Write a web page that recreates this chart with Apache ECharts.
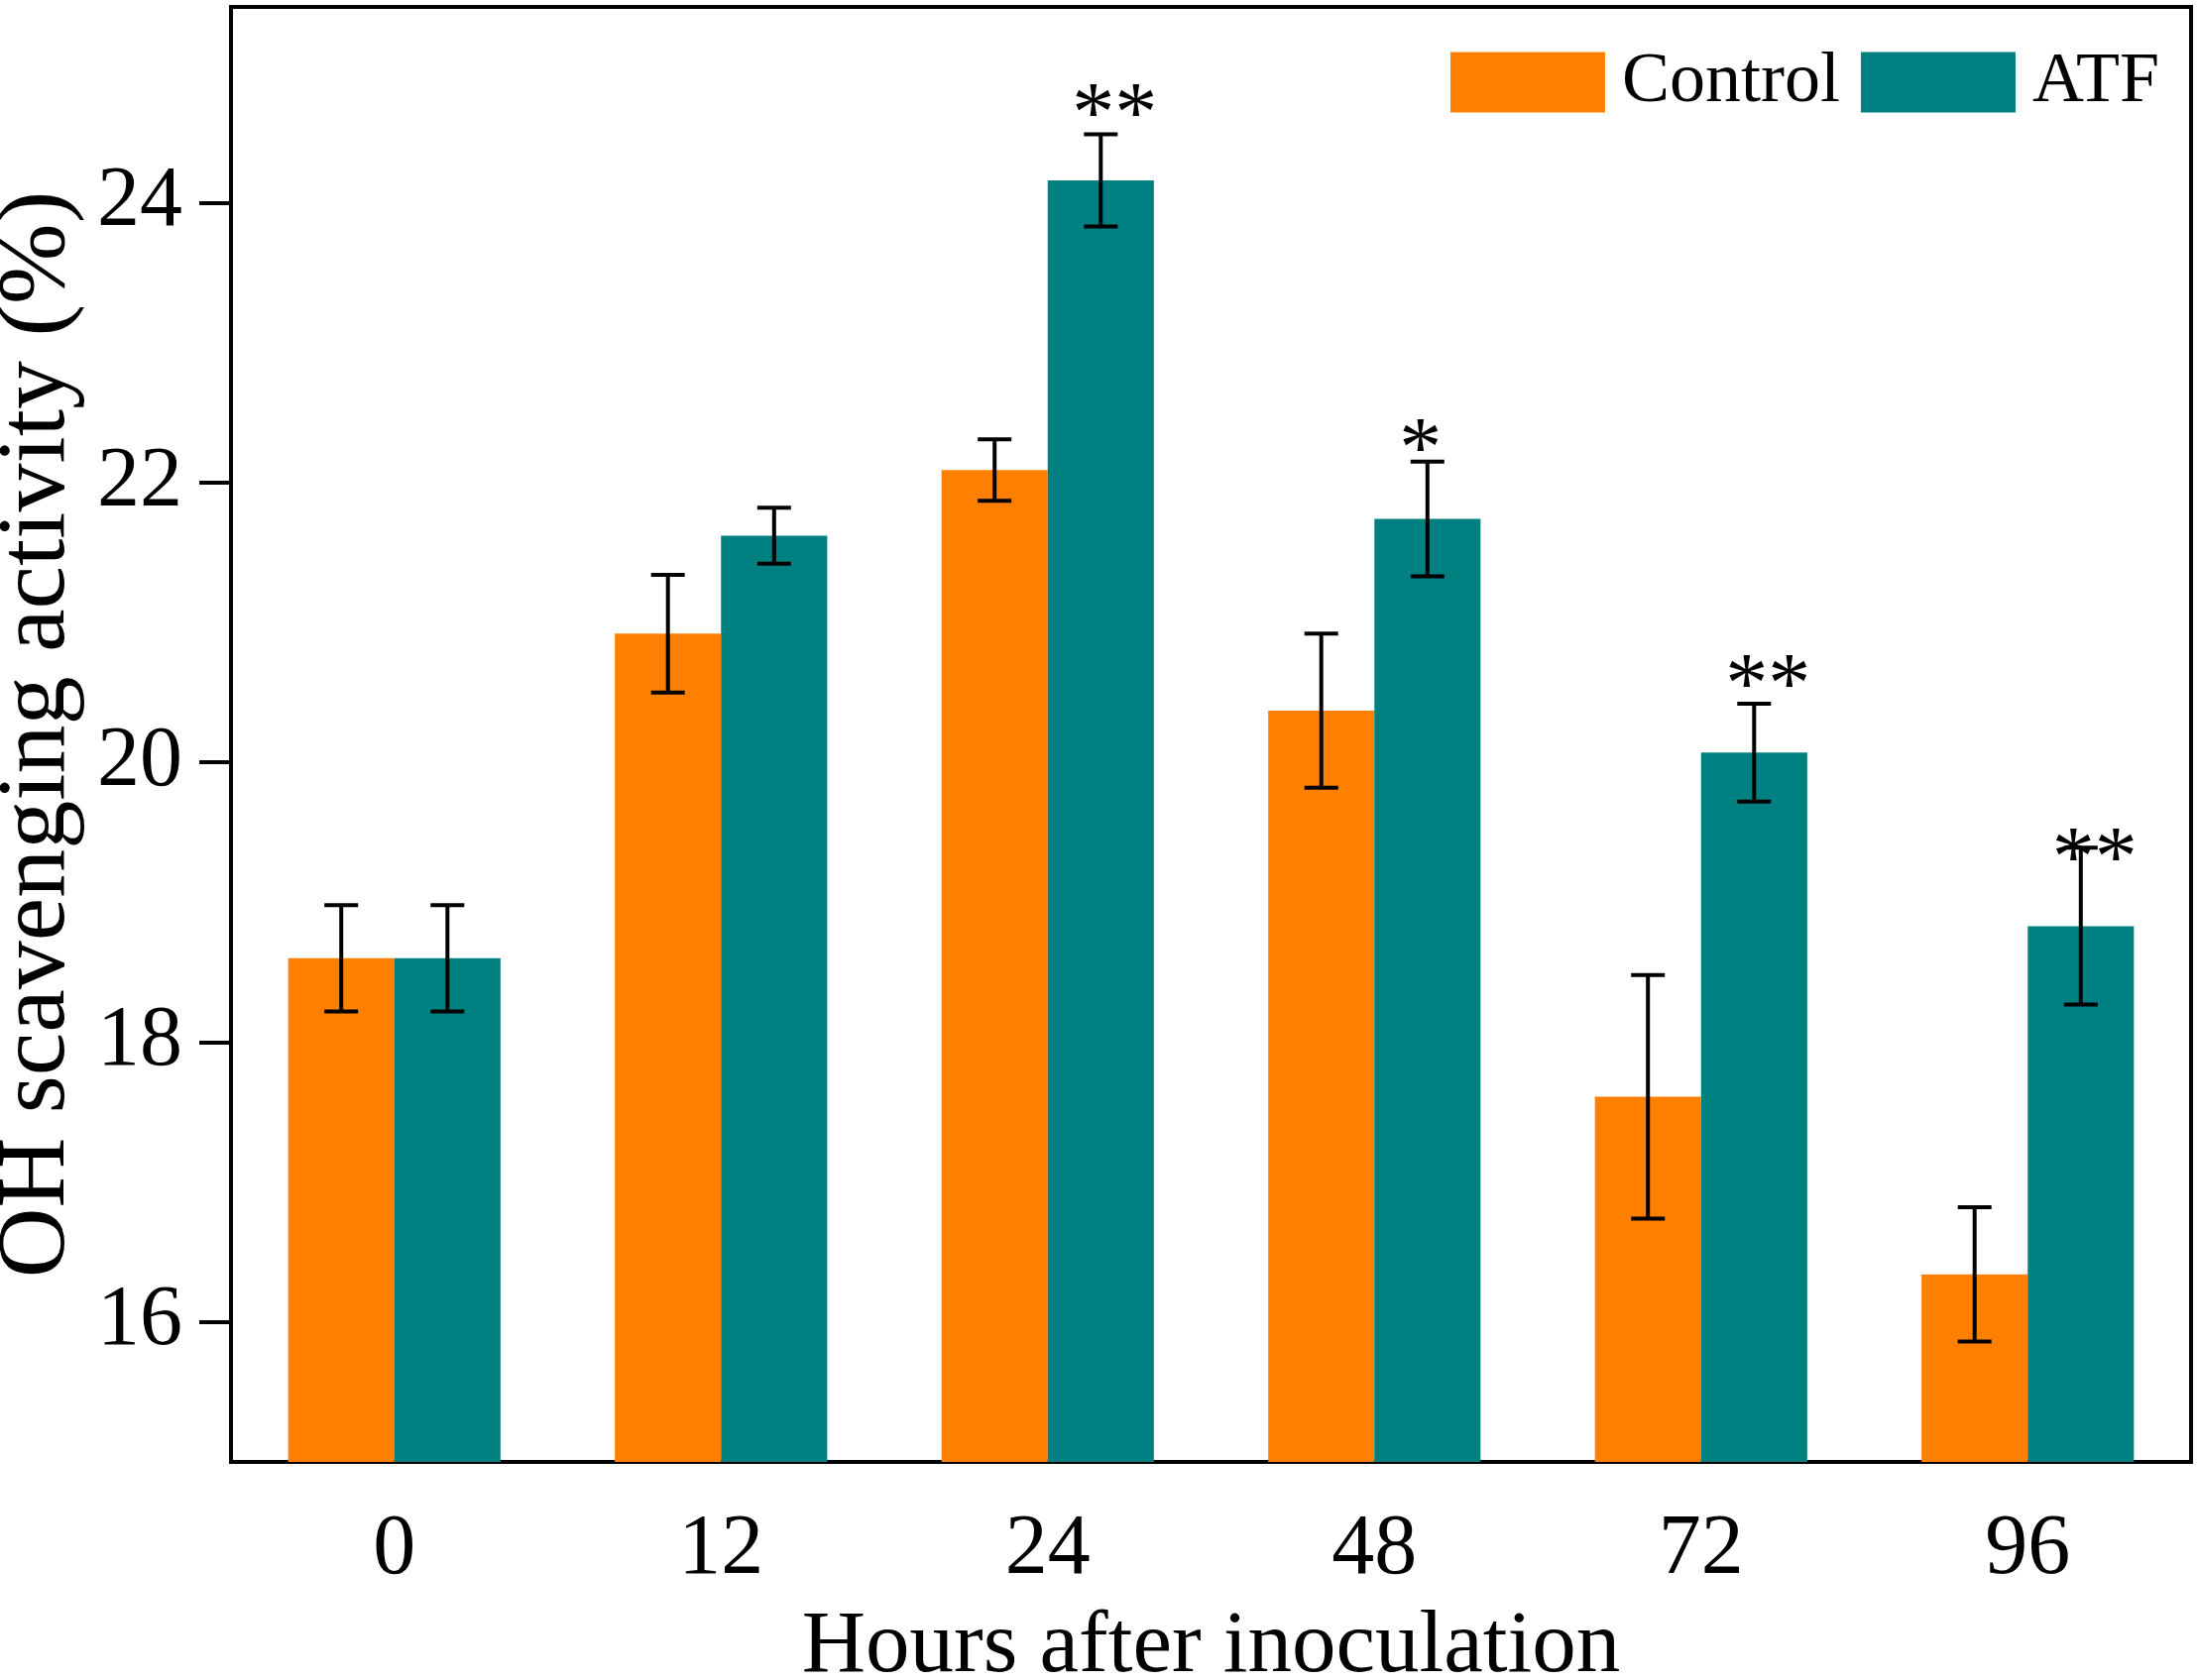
<!DOCTYPE html>
<html>
<head>
<meta charset="utf-8">
<script src="https://cdn.jsdelivr.net/npm/echarts@6/dist/echarts.min.js"></script>
<style>
	html, body { margin: 0; padding: 0; background: #fff; }
	#chart { width: 2217px; height: 1695px; }
</style>
</head>
<body>
<div id="chart"></div>
<script>
// hours after inoculation
var hours = ['0', '12', '24', '48', '72', '96'];
// OH scavenging activity (%)
var controlMean = [18.60, 20.92, 22.09, 20.37, 17.61, 16.34];
var controlErr = [0.38, 0.42, 0.22, 0.55, 0.87, 0.48];
var atfMean = [18.60, 21.62, 24.16, 21.74, 20.07, 18.83];
var atfErr = [0.38, 0.20, 0.33, 0.41, 0.35, 0.56];
// significance marks above ATF bars and where they sit
var sigMarks = ['', '', '**', '*', '**', '**'];
var sigY = [null, null, 24.73, 22.34, 20.65, 19.41];
var yTicks = [16, 18, 20, 22, 24];

var FONT = '"Liberation Serif", "Times New Roman", serif';
var ORANGE = '#FF8000';
var TEAL = '#008080';

var chart = echarts.init(document.getElementById('chart'));

function errData(mean, err) {
	return mean.map(function (m, i) { return [i, m - err[i], m + err[i]]; });
}

function errRender(side) {
	return function (params, api) {
		var band = api.size([1, 0])[0];
		var dx = side * band * 0.1625;
		var lo = api.coord([api.value(0), api.value(1)]);
		var hi = api.coord([api.value(0), api.value(2)]);
		var x = lo[0] + dx;
		var cap = 17;
		var st = { stroke: '#000', lineWidth: 4 };
		return {
			type: 'group',
			children: [
				{ type: 'line', shape: { x1: x, y1: lo[1], x2: x, y2: hi[1] }, style: st },
				{ type: 'line', shape: { x1: x - cap, y1: lo[1], x2: x + cap, y2: lo[1] }, style: st },
				{ type: 'line', shape: { x1: x - cap, y1: hi[1], x2: x + cap, y2: hi[1] }, style: st }
			]
		};
	};
}

var sigData = [];
sigY.forEach(function (v, i) {
	if (v !== null) sigData.push([i, v, sigMarks[i]]);
});

var option = {
	animation: false,
	backgroundColor: '#fff',
	grid: {
		left: 233, right: 7, top: 7, bottom: 220,
		containLabel: false,
		outerBoundsMode: 'none',
		show: true, borderColor: '#000', borderWidth: 4
	},
	legend: {
		data: ['Control', 'ATF'],
		right: 39, top: 47,
		padding: 0,
		icon: 'rect',
		itemWidth: 156, itemHeight: 61, itemGap: 21,
		textStyle: { fontFamily: FONT, fontSize: 72, color: '#000', padding: [0, 0, 0, 12] }
	},
	xAxis: {
		type: 'category',
		data: hours,
		name: 'Hours after inoculation',
		nameLocation: 'middle',
		nameGap: 143,
		nameTextStyle: { fontFamily: FONT, fontSize: 89, color: '#000' },
		axisLine: { lineStyle: { color: '#000', width: 4 } },
		axisTick: { alignWithLabel: true, length: 32, lineStyle: { color: '#000', width: 4 } },
		axisLabel: { fontFamily: FONT, fontSize: 86, color: '#000', margin: 46 },
		splitLine: { show: false }
	},
	yAxis: {
		type: 'value',
		min: 15, max: 25.4,
		name: 'OH scavenging activity (%)',
		nameLocation: 'middle',
		nameGap: 136,
		nameTextStyle: { fontFamily: FONT, fontSize: 98, color: '#000' },
		axisLine: { show: true, lineStyle: { color: '#000', width: 4 } },
		axisTick: { show: true, length: 32, customValues: yTicks, lineStyle: { color: '#000', width: 4 } },
		axisLabel: { fontFamily: FONT, fontSize: 86, color: '#000', margin: 49, customValues: yTicks },
		splitLine: { show: false }
	},
	series: [
		{
			name: 'Control', type: 'bar', data: controlMean,
			barGap: '0%', barCategoryGap: '35%',
			itemStyle: { color: ORANGE }
		},
		{
			name: 'ATF', type: 'bar', data: atfMean,
			barGap: '0%', barCategoryGap: '35%',
			itemStyle: { color: TEAL }
		},
		{
			type: 'custom', name: 'ctrlErr',
			data: errData(controlMean, controlErr),
			renderItem: errRender(-1), z: 10
		},
		{
			type: 'custom', name: 'atfErr',
			data: errData(atfMean, atfErr),
			renderItem: errRender(1), z: 10
		},
		{
			type: 'custom', name: 'sig',
			data: sigData,
			z: 11,
			renderItem: function (params, api) {
				var band = api.size([1, 0])[0];
				var p = api.coord([api.value(0), api.value(1)]);
				var txt = sigData[params.dataIndex][2];
				// the marks sit a little off the error bar in the original
				var shift = txt.length > 1 ? 14 : -7;
				return {
					type: 'text',
					style: {
						text: txt,
						x: p[0] + band * 0.1625 + shift,
						y: p[1] + 18,
						textAlign: 'center',
						textVerticalAlign: 'middle',
						font: '86px ' + FONT,
						fill: '#000'
					}
				};
			}
		}
	]
};

chart.setOption(option);
</script>
</body>
</html>
